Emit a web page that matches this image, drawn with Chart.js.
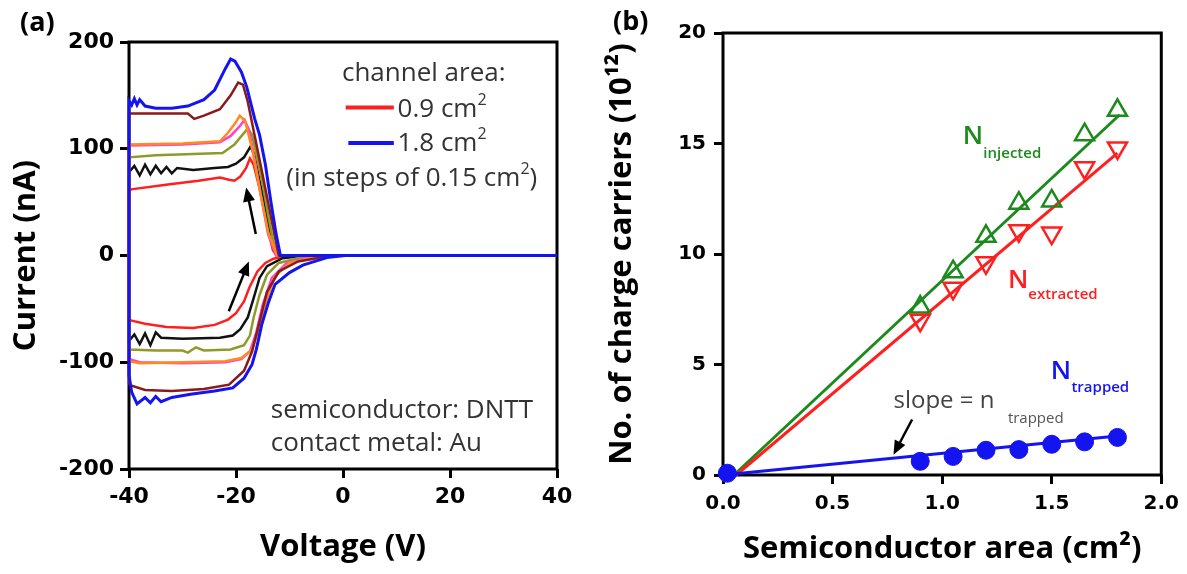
<!DOCTYPE html>
<html>
<head>
<meta charset="utf-8">
<script src="https://cdn.jsdelivr.net/npm/chart.js@4.4.0/dist/chart.umd.min.js"></script>
<style>
  html, body { margin: 0; padding: 0; background: #fff; }
  #wrap { position: relative; width: 1187px; height: 574px; overflow: hidden; background: #fff; }
  canvas { position: absolute; top: 0; }
  #ca { left: 0; }
  #cb { left: 600px; }
  .lbl { position: absolute; font-family: 'Open Sans', sans-serif; font-weight: bold; font-size: 27px; line-height: 30px; color: #000; }
</style>
</head>
<body>
<div id="wrap">
  <canvas id="ca" width="600" height="574"></canvas>
  <canvas id="cb" width="587" height="574"></canvas>
  <div class="lbl" style="left:20px; top:6px;">(a)</div>
  <div class="lbl" style="left:613px; top:5px;">(b)</div>
</div>
<script>
Chart.defaults.font.family = "'Open Sans', sans-serif";
Chart.defaults.color = '#000';
Chart.defaults.animation = false;

// ---- panel (a): I-V loops, one pair of arrays per channel area ----
const v090 = [40, -8, -11, -13, -14.5, -16, -17.5, -18.5, -20, -21.5, -24, -28, -33, -37, -39.5, -40,
              -40, -39.6, -32, -27, -23, -21.3, -20.3, -19.2, -18.1, -17.4, -16.7, -15.6, -14.5, -13.8, -13.1, -12.4, 40];
const i090 = [0, 0, -1, -3, -7, -15, -30, -43, -54, -60, -65, -68, -67, -64, -61, -60,
              60, 62, 67, 70, 73, 71, 70, 74, 82, 91, 85, 63, 39, 20, 5, 0, 0];

const v105 = [40, -7, -11.3, -14.2, -15.6, -16.7, -17.8, -19.2, -20.6, -23, -30, -34, -35, -36, -37, -38, -39, -40,
              -40, -39, -38, -37, -36, -35, -34, -33, -32, -31, -28, -24, -21.5, -20, -18.5, -17.3, -16.6, -15.6, -14.5, -13.5, -12.6, -12.2, 40];
const i105 = [0, 0, -2.5, -10, -21, -40, -58, -69, -75, -77, -78, -77, -72, -84, -73, -83, -74, -80,
              78, 84, 75, 85, 76, 84, 77, 83, 77, 82, 80, 82, 83, 86, 92, 102, 95, 70, 44, 20, 3, 0, 0];

const v120 = [40, -3.4, -8.4, -12, -14.2, -15.6, -16.7, -17.4, -18.5, -21, -26, -27.5, -29, -30, -35, -40,
              -40, -35, -28, -22.5, -20.3, -18.8, -17.8, -17, -16, -14.9, -14, -13, -12.2, 40];
const i120 = [0, 0, -2.5, -7, -18, -37, -58, -75, -84, -88, -89, -86, -91, -89, -89, -88,
              92, 94, 95, 96, 104, 113, 119, 113, 91, 64, 38, 12, 0, 0];

const v135 = [40, -2.5, -6.5, -10.5, -13.3, -15, -16.2, -17.4, -19, -22, -30, -38, -40,
              -40, -30, -23, -21, -19.5, -18.4, -17.6, -16.5, -15.3, -14, -12.5, 40];
const i135 = [0, 0, -2, -7, -21, -46, -72, -90, -97, -100, -101, -100, -97,
              103, 104, 106, 112, 120, 127, 118, 90, 55, 20, 0, 0];

const v150 = [40, -2, -6, -10, -12.8, -14.5, -15.8, -17, -19, -22, -30, -38, -40,
              -40, -30, -23, -21.5, -20, -19.3, -18.3, -17, -15.5, -14, -12.3, 40];
const i150 = [0, 0, -2, -7, -20, -45, -70, -88, -96, -99, -100, -101, -99,
              104, 105, 107, 115, 125, 131, 126, 100, 60, 22, 0, 0];

const v165 = [40, -2, -8.4, -12, -14.2, -15.6, -17, -18.5, -21.3, -26, -32, -37, -39.5, -40,
              -40, -35, -29, -27.8, -26, -23, -21, -19.6, -18.7, -17.8, -16.5, -15, -13.5, -12, 40];
const i165 = [0, 0, -5.6, -15, -34, -62, -90, -108, -121, -125, -127, -126, -122, -120,
              133, 133, 133, 128, 131, 137, 150, 162, 160, 144, 112, 75, 37, 0, 0];

const v180 = [40, 0.4, -3, -7.5, -10, -12.7, -14, -15.2, -16.2, -17, -18.5, -20.6, -24, -28.5, -32, -34, -35, -36, -37, -38.5, -39.5, -40,
              -40, -39.5, -39, -38.5, -38, -37, -35, -32, -29, -26, -24, -23, -22, -21, -20.2, -19, -18, -16.5, -15.6, -14.5, -13.5, -12.5, -11.7, 40];
const i180 = [0, 0, -2, -9, -16, -27, -45, -65, -88, -102, -115, -124, -127, -130, -133, -137, -132, -138, -133, -139, -128, -112,
              145, 141, 147, 141, 146, 140, 138, 138, 140, 146, 155, 165, 175, 184, 182, 172, 158, 128, 113, 85, 51, 20, 0, 0];

const voltTicks = [-40, -20, 0, 20, 40];
const currTicks = [-200, -100, 0, 100, 200];

// ---- panel (b): carriers vs area ----
const areas = [0.9, 1.05, 1.2, 1.35, 1.5, 1.65, 1.8];
const nInjected = [7.6, 9.2, 10.8, 12.3, 12.4, 15.4, 16.5];
const nExtracted = [7.0, 8.45, 9.6, 11.05, 10.95, 13.9, 14.8];
const trapAreas = [0.02, 0.9, 1.05, 1.2, 1.35, 1.5, 1.65, 1.8];
const nTrapped = [0.08, 0.62, 0.84, 1.12, 1.15, 1.39, 1.5, 1.7];
// fitted straight lines (end points)
const fitInjX = [0.05, 1.81], fitInjY = [0, 16.3];
const fitExtX = [0.06, 1.8], fitExtY = [0, 14.56];
const fitTrapX = [0, 1.8], fitTrapY = [0, 1.76];

const GREEN = '#1d8a1d', RED = '#ff1f1f', BLUE = '#1414f0';

function pts(xs, ys) { return xs.map((x, i) => ({ x: x, y: ys[i] })); }

const frame = {
  id: 'frame',
  beforeDatasetsDraw(chart) {
    const { ctx, chartArea: a } = chart;
    ctx.save();
    ctx.lineWidth = 3;
    ctx.strokeStyle = '#000';
    ctx.strokeRect(a.left, a.top, a.right - a.left, a.bottom - a.top);
    ctx.restore();
  }
};

function arrow(ctx, x1, y1, x2, y2) {
  const ang = Math.atan2(y2 - y1, x2 - x1);
  const len = 14, half = 6;
  ctx.strokeStyle = '#000'; ctx.fillStyle = '#000'; ctx.lineWidth = 2.5;
  ctx.beginPath();
  ctx.moveTo(x1, y1);
  ctx.lineTo(x2 - Math.cos(ang) * len * 0.8, y2 - Math.sin(ang) * len * 0.8);
  ctx.stroke();
  ctx.beginPath();
  ctx.moveTo(x2, y2);
  ctx.lineTo(x2 - len * Math.cos(ang) + half * Math.sin(ang), y2 - len * Math.sin(ang) - half * Math.cos(ang));
  ctx.lineTo(x2 - len * Math.cos(ang) - half * Math.sin(ang), y2 - len * Math.sin(ang) + half * Math.cos(ang));
  ctx.closePath();
  ctx.fill();
}

// draw text runs one after the other: [text, font, dy]
function runs(ctx, x, y, parts, color) {
  ctx.fillStyle = color;
  ctx.textBaseline = 'alphabetic';
  ctx.textAlign = 'left';
  parts.forEach(p => {
    ctx.font = p[1];
    ctx.fillText(p[0], x, y + (p[2] || 0));
    x += ctx.measureText(p[0]).width;
  });
}

const notesA = {
  id: 'notesA',
  afterDraw(chart) {
    const { ctx } = chart;
    const X = v => chart.scales.x.getPixelForValue(v);
    const Y = v => chart.scales.y.getPixelForValue(v);
    const f = "26px 'Open Sans', sans-serif", fs = "16px 'Open Sans', sans-serif";
    ctx.save();
    runs(ctx, X(-0.2), Y(163.7), [['channel area:', f]], '#333');
    ctx.lineWidth = 4;
    ctx.strokeStyle = RED;
    ctx.beginPath(); ctx.moveTo(X(0.5), Y(138.6)); ctx.lineTo(X(9.5), Y(138.6)); ctx.stroke();
    ctx.strokeStyle = BLUE;
    ctx.beginPath(); ctx.moveTo(X(1.0), Y(105.4)); ctx.lineTo(X(9.5), Y(105.4)); ctx.stroke();
    runs(ctx, X(10.2), Y(130.2), [['0.9 cm', f], ['2', fs, -12]], '#333');
    runs(ctx, X(10.2), Y(98.3), [['1.8 cm', f], ['2', fs, -12]], '#333');
    runs(ctx, X(-10.6), Y(65), [['(in steps of 0.15 cm', f], ['2', fs, -12], [')', f]], '#333');
    runs(ctx, X(-13.5), Y(-151.8), [['semiconductor: DNTT', f]], '#333');
    runs(ctx, X(-13.5), Y(-182.9), [['contact metal: Au', f]], '#333');
    arrow(ctx, X(-16.3), Y(20.2), X(-18.1), Y(63.6));
    arrow(ctx, X(-21.35), Y(-52.3), X(-17.6), Y(-5.6));
    ctx.restore();
  }
};

const notesB = {
  id: 'notesB',
  afterDraw(chart) {
    const { ctx } = chart;
    const X = v => chart.scales.x.getPixelForValue(v);
    const Y = v => chart.scales.y.getPixelForValue(v);
    const fN = "600 26px 'Open Sans', sans-serif", fs = "600 15px 'Open Sans', sans-serif";
    ctx.save();
    runs(ctx, X(1.094), Y(15.0), [['N', fN]], GREEN);
    runs(ctx, X(1.188), Y(14.34), [['injected', fs]], GREEN);
    runs(ctx, X(1.30), Y(8.45), [['N', fN]], RED);
    runs(ctx, X(1.393), Y(7.95), [['extracted', fs]], RED);
    runs(ctx, X(1.496), Y(4.35), [['N', fN]], BLUE);
    runs(ctx, X(1.59), Y(3.77), [['trapped', fs]], BLUE);
    runs(ctx, X(0.778), Y(3.01), [['slope = n', "24px 'Open Sans', sans-serif"]], '#444');
    runs(ctx, X(1.30), Y(2.34), [['trapped', "15px 'Open Sans', sans-serif"]], '#555');
    arrow(ctx, X(0.863), Y(2.51), X(0.778), Y(0.92));
    ctx.restore();
  }
};

const tickFontA = { family: "'DejaVu Sans', sans-serif", weight: 'bold', size: 22 };
const tickFontB = { family: "'DejaVu Sans', sans-serif", weight: 'bold', size: 20 };
const titleFont = { family: "'Open Sans', sans-serif", weight: 'bold', size: 31 };
const tickGrid = { drawOnChartArea: false, drawTicks: true, tickLength: 9, tickWidth: 3, color: '#000' };

const curves = [
  { v: v180, i: i180, color: BLUE, w: 3 },
  { v: v165, i: i165, color: '#8b1a1a', w: 2.5 },
  { v: v150, i: i150, color: '#ff8a1c', w: 2.5 },
  { v: v135, i: i135, color: '#ff3fcf', w: 2.5 },
  { v: v120, i: i120, color: '#8e9a2a', w: 2.5 },
  { v: v105, i: i105, color: '#111111', w: 2.5 },
  { v: v090, i: i090, color: RED, w: 2.5 }
];

new Chart(document.getElementById('ca'), {
  type: 'scatter',
  data: {
    datasets: curves.map(c => ({
      data: pts(c.v, c.i), showLine: true, borderColor: c.color, borderWidth: c.w,
      pointRadius: 0, tension: 0, fill: false, clip: 4
    }))
  },
  options: {
    responsive: false,
    layout: { padding: { top: 42, right: 43, left: 0, bottom: 0 } },
    plugins: { legend: { display: false }, tooltip: { enabled: false } },
    scales: {
      x: {
        type: 'linear', min: -40, max: 40,
        afterBuildTicks: s => { s.ticks = voltTicks.map(v => ({ value: v })); },
        afterFit: s => { s.height = 105; },
        ticks: { font: tickFontA, padding: 6, maxRotation: 0 },
        grid: tickGrid, border: { display: false },
        title: { display: true, text: 'Voltage (V)', font: titleFont, padding: { bottom: 8 } }
      },
      y: {
        type: 'linear', min: -200, max: 200,
        afterBuildTicks: s => { s.ticks = currTicks.map(v => ({ value: v })); },
        afterFit: s => { s.width = 129; },
        ticks: { font: tickFontA, padding: 6 },
        grid: tickGrid, border: { display: false },
        title: { display: true, text: 'Current (nA)', font: titleFont, padding: { top: 8 } }
      }
    }
  },
  plugins: [frame, notesA]
});

new Chart(document.getElementById('cb'), {
  type: 'scatter',
  data: {
    datasets: [
      { data: pts(trapAreas, nTrapped), pointStyle: 'circle', pointRadius: 9, backgroundColor: BLUE, borderColor: BLUE, borderWidth: 1, clip: 10 },
      { data: pts(areas, nExtracted), pointStyle: 'triangle', rotation: 180, pointRadius: 11, backgroundColor: 'rgba(0,0,0,0)', borderColor: RED, borderWidth: 2.5, clip: 10 },
      { data: pts(areas, nInjected), pointStyle: 'triangle', pointRadius: 11, backgroundColor: 'rgba(0,0,0,0)', borderColor: GREEN, borderWidth: 2.5, clip: 10 },
      { data: pts(fitTrapX, fitTrapY), showLine: true, pointRadius: 0, borderColor: BLUE, borderWidth: 3, clip: 4 },
      { data: pts(fitExtX, fitExtY), showLine: true, pointRadius: 0, borderColor: RED, borderWidth: 3, clip: 4 },
      { data: pts(fitInjX, fitInjY), showLine: true, pointRadius: 0, borderColor: GREEN, borderWidth: 3, clip: 4 }
    ]
  },
  options: {
    responsive: false,
    layout: { padding: { top: 33, right: 25, left: 0, bottom: 0 } },
    plugins: { legend: { display: false }, tooltip: { enabled: false } },
    scales: {
      x: {
        type: 'linear', min: 0, max: 2,
        ticks: { stepSize: 0.5, font: tickFontB, padding: 8, maxRotation: 0, callback: v => v.toFixed(1) },
        afterFit: s => { s.height = 99; },
        grid: tickGrid, border: { display: false },
        title: { display: true, text: 'Semiconductor area (cm²)', font: titleFont, padding: { bottom: 6 } }
      },
      y: {
        type: 'linear', min: 0, max: 20,
        ticks: { stepSize: 5, font: tickFontB, padding: 8 },
        afterFit: s => { s.width = 123; },
        grid: tickGrid, border: { display: false },
        title: { display: true, text: 'No. of charge carriers (10¹²)', font: titleFont, padding: { top: 4 } }
      }
    }
  },
  plugins: [frame, notesB]
});
</script>
</body>
</html>
